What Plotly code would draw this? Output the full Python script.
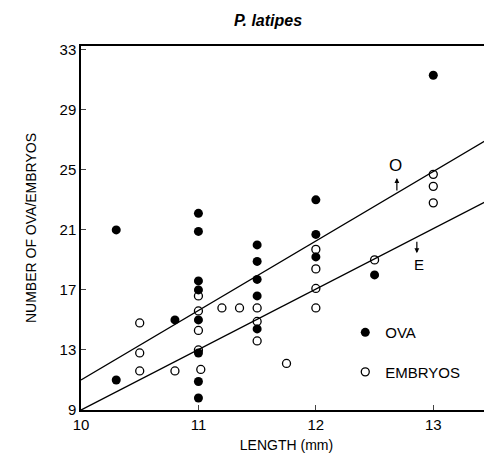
import plotly.graph_objects as go

# Data
ova_x = [10.3, 10.3, 10.8, 11, 11, 11, 11, 11, 11, 11, 11,
         11.5, 11.5, 11.5, 11.5, 11.5, 12, 12, 12, 12.5, 13]
ova_y = [21.0, 11.0, 15.0, 22.1, 20.9, 17.6, 17.0, 15.0, 12.8, 10.9, 9.8,
         20.0, 18.9, 17.7, 16.6, 14.4, 23.0, 20.7, 19.2, 18.0, 31.3]

emb_x = [10.5, 10.5, 10.5, 10.8, 11, 11, 11, 11, 11.02, 11.2, 11.35,
         11.5, 11.5, 11.5, 11.75, 12, 12, 12, 12, 12.5, 13, 13, 13]
emb_y = [14.8, 12.8, 11.6, 11.6, 16.6, 15.6, 14.3, 13.0, 11.7, 15.8, 15.8,
         15.8, 14.9, 13.6, 12.1, 19.7, 18.4, 17.1, 15.8, 19.0, 24.7, 23.9, 22.8]

line_x = [10.0, 13.5]
line_o_y = [11.0, 27.2]
line_e_y = [9.0, 23.1]

x_ticks = [10, 11, 12, 13]
y_ticks = [9, 13, 17, 21, 25, 29, 33]

FONT = "Liberation Sans, Arial, sans-serif"

fig = go.Figure()
fig.add_trace(go.Scatter(x=line_x, y=line_o_y, mode="lines",
                         line=dict(color="black", width=1.4), showlegend=False,
                         hoverinfo="skip"))
fig.add_trace(go.Scatter(x=line_x, y=line_e_y, mode="lines",
                         line=dict(color="black", width=1.4), showlegend=False,
                         hoverinfo="skip"))
fig.add_trace(go.Scatter(x=ova_x, y=ova_y, mode="markers", name="OVA",
                         legendgroup="a",
                         marker=dict(symbol="circle", size=9, color="black")))
fig.add_trace(go.Scatter(x=emb_x, y=emb_y, mode="markers", name="EMBRYOS",
                         legendgroup="b",
                         marker=dict(symbol="circle-open", size=8, color="black",
                                     line=dict(width=1.3))))

fig.update_layout(
    width=492, height=457,
    margin=dict(l=73, r=8, t=38, b=55),
    paper_bgcolor="white", plot_bgcolor="white",
    font=dict(family=FONT, color="black", size=15),
    title=dict(text="<b><i>P. latipes</i></b>", x=260/492, xanchor="center",
               y=1 - 12/457, yanchor="middle", font=dict(size=16, family=FONT)),
    legend=dict(x=0.643, y=0.258, xanchor="left", yanchor="top",
                traceorder="grouped", tracegroupgap=17,
                font=dict(size=15, family=FONT), bgcolor="rgba(0,0,0,0)"),
    xaxis=dict(range=[10, 13.5], tickvals=x_ticks, ticks="inside", ticklen=5,
               showline=True, linecolor="black", linewidth=1.5, mirror=True,
               showgrid=False, zeroline=False, automargin=False,
               title=dict(text="LENGTH (mm)", font=dict(size=14), standoff=8)),
    yaxis=dict(range=[9, 33.25], tickvals=y_ticks, ticks="inside", ticklen=5,
               showline=True, linecolor="black", linewidth=1.5, mirror=True,
               showgrid=False, zeroline=False, automargin=False,
               title=dict(text="NUMBER OF OVA/EMBRYOS", font=dict(size=14), standoff=20)),
    showlegend=True,
)

fig.add_annotation(x=12.68, y=25.3, text="O", showarrow=False,
                   font=dict(size=17, family=FONT))
fig.add_annotation(x=12.69, y=24.45, ax=0, ay=14, text="", showarrow=True,
                   arrowhead=2, arrowsize=0.8, arrowwidth=1.2, arrowcolor="black")
fig.add_annotation(x=12.88, y=18.67, text="E", showarrow=False,
                   font=dict(size=15, family=FONT))
fig.add_annotation(x=12.86, y=19.45, ax=0, ay=-13, text="", showarrow=True,
                   arrowhead=2, arrowsize=0.8, arrowwidth=1.2, arrowcolor="black")

fig.write_html("out.html")
